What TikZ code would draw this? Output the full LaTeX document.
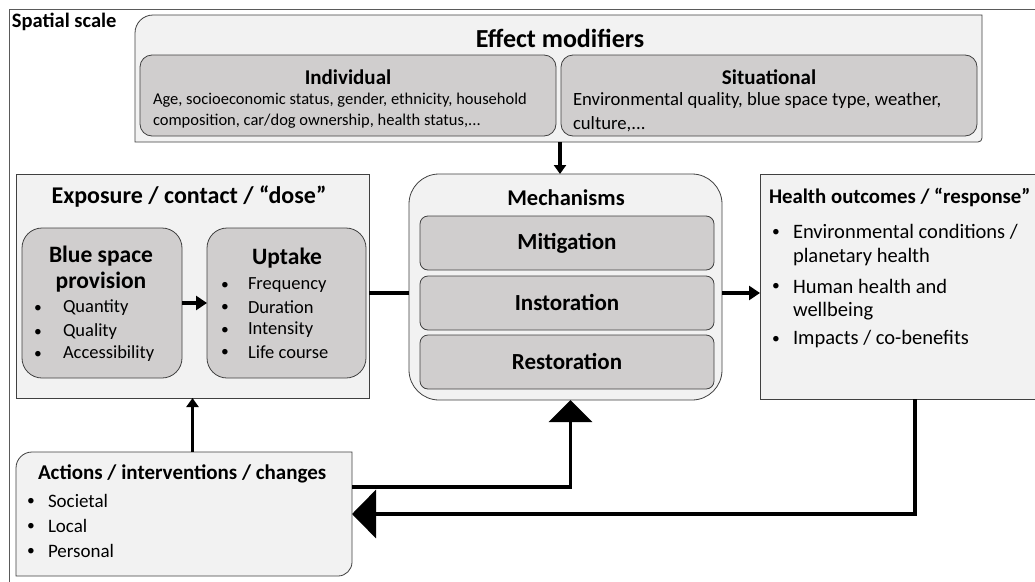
\documentclass[tikz,border=0pt]{standalone}
\usepackage{fontspec}
\setmainfont{Carlito}
\usetikzlibrary{arrows.meta,calc}
\definecolor{boxfill}{RGB}{242,242,242}
\definecolor{innerfill}{RGB}{208,206,206}
\definecolor{edgecol}{RGB}{64,64,64}
\definecolor{framecol}{RGB}{90,90,90}
\newcommand\fsz[1]{\fontsize{#1}{#1}\selectfont}
\begin{document}
\begin{tikzpicture}[x=1pt,y=-1pt,
  txt/.style={inner sep=0pt, outer sep=0pt, text=black},
  dotmark/.style={inner sep=0pt, outer sep=0pt, text=black, font=\fsz{15.5}},
  outerbox/.style={draw=edgecol, line width=0.8pt, fill=boxfill},
  boxnode/.style={draw=edgecol, line width=0.8pt, fill=boxfill, inner sep=0pt, outer sep=0pt},
  innode/.style={draw=edgecol, line width=0.8pt, fill=innerfill, inner sep=0pt, outer sep=0pt},
  ghost/.style={draw=none, inner sep=0pt, outer sep=0pt},
  conn/.style={line width=3.6pt, draw=black},
  smallarr/.style={conn, -{Triangle[width=12pt,length=9pt]}},
]
\useasboundingbox (0,0) rectangle (1035,581);
\clip (0,0) rectangle (1035,581);
\fill[white] (0,0) rectangle (1035,581);

% outer frame
\draw[framecol, line width=1pt] (9,600) -- (9,9) -- (1060,9);
\node[txt, anchor=west, font=\fsz{20.5}\bfseries] (spatial) at (12,22) {Spatial scale};

% Effect modifiers
\path[outerbox] (135,142) -- (135,33) .. controls (135,23.06) and (143.06,15) .. (153,15)
  -- (982,15) -- (982,138) .. controls (982,140.2) and (980.2,142) .. (978,142) -- cycle;
\node[ghost, minimum width=847pt, minimum height=127pt] (em) at (558.5,78.5) {};
\node[txt, font=\fsz{26}\bfseries] (emttl) at (560,38) {Effect modifiers};
\node[innode, rounded corners=12pt, minimum width=416pt, minimum height=81pt] (ind) at (348,95.5) {};
\node[innode, rounded corners=12pt, minimum width=416pt, minimum height=81pt] (sit) at (769,95.5) {};
\node[txt, font=\fsz{21}\bfseries] (indttl) at (348,77) {Individual};
\node[txt, anchor=west, font=\fsz{16.5}] (ind1) at (153,100) {Age, socioeconomic status, gender, ethnicity, household};
\node[txt, anchor=west, font=\fsz{16.5}] (ind2) at (153,121) {composition, car/dog ownership, health status,...};
\node[txt, font=\fsz{21}\bfseries] (sitttl) at (769,77) {Situational};
\node[txt, anchor=west, font=\fsz{18.7}] (sit1) at (573,101) {Environmental quality, blue space type, weather,};
\node[txt, anchor=west, font=\fsz{18.7}] (sit2) at (573,124) {culture,...};

% Exposure
\node[boxnode, minimum width=353pt, minimum height=224pt] (exp) at (192.5,286) {};
\node[txt, font=\fsz{24}\bfseries] (expttl) at (189,197) {Exposure / contact / “dose”};
\node[innode, rounded corners=20pt, minimum width=160pt, minimum height=150pt] (bsp) at (102,303) {};
\node[innode, rounded corners=20pt, minimum width=159pt, minimum height=150pt] (upt) at (286.5,303) {};
\node[txt, font=\fsz{23.5}\bfseries] (bsp1) at (101,256) {Blue space};
\node[txt, font=\fsz{23.5}\bfseries] (bsp2) at (101,282) {provision};
\foreach \y/\t [count=\i] in {308/Quantity,332/Quality,354/Accessibility}{
  \node[dotmark] (bspb\i) at (38,\y+1) {•};
  \node[txt, anchor=west, font=\fsz{18.5}] (bspt\i) at (63,\y) {\t};
}
\node[txt, font=\fsz{23.5}\bfseries] (uptttl) at (287,258) {Uptake};
\foreach \y/\t [count=\i] in {285/Frequency,307/Duration,330/Intensity,352/Life course}{
  \node[dotmark] (uptb\i) at (225,\y+1) {•};
  \node[txt, anchor=west, font=\fsz{18.5}] (uptt\i) at (248,\y) {\t};
}

% Mechanisms
\node[boxnode, rounded corners=30pt, minimum width=313pt, minimum height=226pt] (mech) at (565.5,287) {};
\node[txt, font=\fsz{22.5}\bfseries] (mechttl) at (566,198) {Mechanisms};
\node[innode, rounded corners=8pt, minimum width=294pt, minimum height=54pt] (mit) at (567,243) {};
\node[innode, rounded corners=8pt, minimum width=294pt, minimum height=54pt] (inst) at (567,303) {};
\node[innode, rounded corners=8pt, minimum width=294pt, minimum height=54pt] (rest) at (567,362) {};
\node[txt, font=\fsz{23}\bfseries] (mitt) at (567,243) {Mitigation};
\node[txt, font=\fsz{23}\bfseries] (instt) at (567,302) {Instoration};
\node[txt, font=\fsz{23}\bfseries] (restt) at (567,361) {Restoration};

% Health outcomes
\node[boxnode, minimum width=285pt, minimum height=225pt] (health) at (902.5,286.5) {};
\node[txt, anchor=west, font=\fsz{20.8}\bfseries] (healthttl) at (769,197) {Health outcomes / “response”};
\node[dotmark] (hb1) at (776,233) {•};
\node[txt, anchor=west, font=\fsz{20.5}] (ht1) at (793,232) {Environmental conditions /};
\node[txt, anchor=west, font=\fsz{20.5}] (ht1b) at (793,257) {planetary health};
\node[dotmark] (hb2) at (776,287) {•};
\node[txt, anchor=west, font=\fsz{20.5}] (ht2) at (793,286) {Human health and};
\node[txt, anchor=west, font=\fsz{20.5}] (ht2b) at (793,311) {wellbeing};
\node[dotmark] (hb3) at (776,340) {•};
\node[txt, anchor=west, font=\fsz{20.5}] (ht3) at (793,339) {Impacts / co-benefits};

% Actions
\path[outerbox] (16,576) -- (16,468) .. controls (16,459.16) and (23.16,452) .. (32,452)
  -- (352,452) -- (352,562) .. controls (352,569.73) and (345.73,576) .. (338,576) -- cycle;
\node[ghost, minimum width=336pt, minimum height=124pt] (act) at (184,514) {};
\node[txt, anchor=west, font=\fsz{21}\bfseries] (actttl) at (38,474) {Actions / interventions / changes};
\foreach \y/\t [count=\i] in {501/Societal,526/Local,551/Personal}{
  \node[dotmark] (actb\i) at (31,\y+1) {•};
  \node[txt, anchor=west, font=\fsz{19}] (actt\i) at (48,\y) {\t};
}

% connectors
\draw[smallarr] (em.south -| emttl.south) -- (mech.north -| emttl.south);
\draw[conn, -{Triangle[width=14pt,length=11pt]}] (bsp.east) -- (upt.west);
\draw[conn] ([yshift=-7pt]exp.east) -- ([yshift=-7pt]exp.east -| mech.west);
\draw[conn, -{Triangle[width=14pt,length=11pt]}] ([yshift=-6pt]mech.east) -- ([yshift=-6pt]mech.east -| health.west);
\draw[smallarr] (act.north -| exp.south) -- (exp.south);
\draw[conn, -{Triangle[width=43pt,length=22pt]}] ([yshift=27pt]act.east) -| ([xshift=5pt]mech.south);
\draw[conn, -{Triangle[width=48pt,length=24pt]}] ([xshift=12.5pt]health.south) |- (act.east);
\end{tikzpicture}
\end{document}
